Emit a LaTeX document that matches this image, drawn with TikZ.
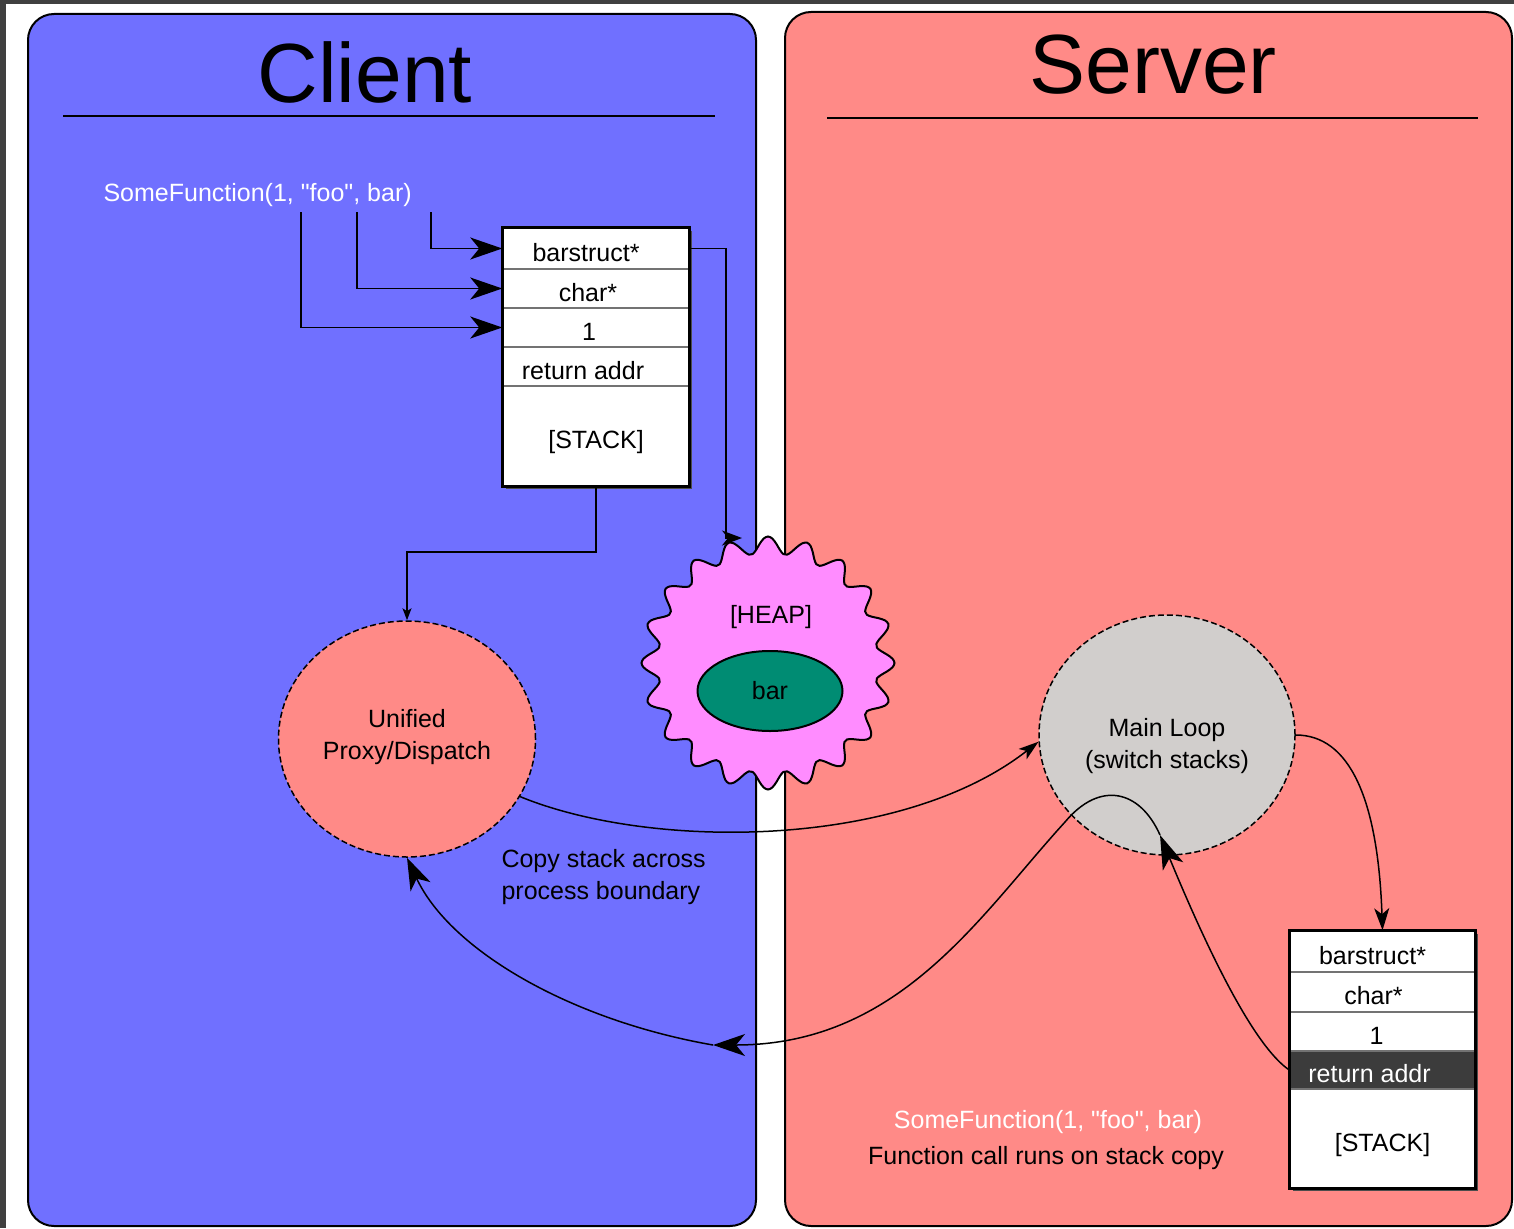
\documentclass[tikz,border=0pt]{standalone}
\usepackage{fontspec}
\setmainfont{Liberation Sans}
\usetikzlibrary{arrows.meta,shapes.geometric}
\definecolor{clientblue}{RGB}{112,112,255}
\definecolor{serverred}{RGB}{255,138,135}
\definecolor{heappink}{RGB}{255,140,255}
\definecolor{barteal}{RGB}{0,140,115}
\definecolor{loopgray}{RGB}{209,206,204}
\definecolor{edgegray}{RGB}{64,64,64}
\definecolor{retdark}{RGB}{60,60,60}
\newcommand{\qt}{\textquotedbl}

\begin{document}
\begin{tikzpicture}[x=1pt,y=-1pt,
  txt/.style={font=\fontsize{25}{32}\selectfont},
  panel/.style={draw=black,line width=2pt,rounded corners=26pt},
  heading/.style={font=\fontsize{84}{90}\selectfont},
  cell/.style={draw=black!55,line width=1.5pt,fill=white,minimum width=186pt,inner sep=0pt,txt,text height=25pt,text depth=0pt},
  stackframe/.style={draw=black,line width=3pt},
  blob/.style={ellipse,draw=black,line width=1.5pt,dash pattern=on 6pt off 3pt,inner sep=0pt},
  wire/.style={draw=black,line width=1.5pt},
  bigtip/.style={-{Stealth[length=32pt,width=22pt,inset=9pt]}},
  midtip/.style={-{Stealth[length=22pt,width=15pt,inset=6pt]}},
  smalltip/.style={-{Stealth[length=12pt,width=9pt,inset=3pt]}}
]
\useasboundingbox (0,0) rectangle (1514,1228);
% page background with the dark window edge
\fill[white] (0,0) rectangle (1514,1228);
\fill[edgegray] (0,0) rectangle (1514,4);
\fill[edgegray] (0,0) rectangle (6,1228);

% the two process panels
\path[panel,fill=clientblue] (28,14) rectangle (756,1226);
\path[panel,fill=serverred] (785,12) rectangle (1512,1226);

\node[heading] (ctitle) at (365,72) {Client};
\draw[line width=1.5pt] (63,116) -- (715,116);
\node[heading] (stitle) at (1153,65) {Server};
\draw[line width=1.5pt] (827,118) -- (1478,118);

% shared heap
\coordinate (heap) at (768,663);
\draw[fill=heappink,line width=2pt]
  plot[smooth cycle,domain=0:358,samples=180,variable=\t]
  ({768+(118+8.5*cos(20*\t))*cos(\t)},{663+(118+8.5*cos(20*\t))*sin(\t)});
\node[txt] (heaplbl) at (771,617) {[HEAP]};
\node[ellipse,draw=black,line width=2pt,fill=barteal,minimum width=145pt,minimum height=80pt,inner sep=0pt,txt] (bar) at (770,691) {bar};

% proxy and main loop
\node[blob,fill=serverred,minimum width=257pt,minimum height=236pt] (proxy) at (407,739) {};
\node[txt,align=center] (proxylbl) at (407,737) {Unified\\Proxy/Dispatch};
\node[blob,fill=loopgray,minimum width=256pt,minimum height=240pt] (loop) at (1167,735) {};
\node[txt,align=center] (looplbl) at (1167,746) {Main Loop\\(switch stacks)};

% client stack
\fill[black!70] (506,231) rectangle (692,489);
\node[cell,minimum height=41pt] (cs1) at (596,248.5) {barstruct*\hspace*{20pt}};
\node[cell,minimum height=39pt] (cs2) at (596,288.5) {char*\hspace*{16pt}};
\node[cell,minimum height=39pt] (cs3) at (596,327.5) {1\hspace*{14pt}};
\node[cell,minimum height=39pt] (cs4) at (596,366.5) {return addr\hspace*{26pt}};
\node[cell,minimum height=100pt] (cs5) at (596,436) {[STACK]};
\draw[stackframe] (cs1.north west) rectangle (cs5.south east);

% server stack
\fill[black!70] (1293,934) rectangle (1478,1191);
\node[cell,minimum width=185pt,minimum height=41pt] (ss1) at (1382.5,951.5) {barstruct*\hspace*{20pt}};
\node[cell,minimum width=185pt,minimum height=40pt] (ss2) at (1382.5,992) {char*\hspace*{18pt}};
\node[cell,minimum width=185pt,minimum height=39pt] (ss3) at (1382.5,1031.5) {1\hspace*{12pt}};
\node[cell,minimum width=185pt,minimum height=38pt,fill=retdark,text=white] (ss4) at (1382.5,1070) {return addr\hspace*{26pt}};
\node[cell,minimum width=185pt,minimum height=99pt] (ss5) at (1382.5,1138.5) {[STACK]};
\draw[stackframe] (ss1.north west) rectangle (ss5.south east);

% labels
\node[txt,white,anchor=west] (callc) at (100,195) {SomeFunction(1, \qt foo\qt, bar)};
\node[txt,align=left,anchor=west] (copy) at (498,877) {Copy stack across\\process boundary};
\node[txt,white] (calls) at (1048,1122) {SomeFunction(1, \qt foo\qt, bar)};
\node[txt] (runs) at (1046,1158) {Function call runs on stack copy};

% arguments pushed onto the client stack
\coordinate (argA) at (301,212);
\coordinate (argB) at (357,212);
\coordinate (argC) at (431,212);
\draw[wire,bigtip] (argA) |- (cs3.west);
\draw[wire,bigtip] (argB) |- (cs2.west);
\draw[wire,bigtip] (argC) |- (cs1.west);

% pointer into the heap
\coordinate (heaptop) at (742,538);
\draw[wire,-{Stealth[length=20pt,width=15pt,inset=6pt]}] (cs1.east) -| (726,538) -- (heaptop);

% stack handed to the proxy
\draw[wire,smalltip] (cs5.south) -- ++(0,65) -| (proxy.north);

% proxy to main loop and on to the copied stack
\draw[wire,-{Stealth[length=20pt,width=13pt,inset=5pt]}] (proxy.-27) .. controls (650,850) and (900,850) .. (loop.183);
\draw[wire,midtip] (loop.east) .. controls (1350,735) and (1378,800) .. (ss1.north);

% return path
\coordinate (sw) at (1160,835);
\coordinate (mid) at (713,1045);
\draw[wire,-{Stealth[length=34pt,width=22pt,inset=9pt]}] (ss4.west) .. controls (1260,1050) and (1220,980) .. (sw);
\draw[wire,bigtip] (sw) .. controls (1140,790) and (1100,780) .. (1065,822) .. controls (980,915) and (900,1045) .. (mid);
\draw[wire,bigtip] (mid) .. controls (570,1020) and (450,950) .. (proxy.south);
\end{tikzpicture}
\end{document}
